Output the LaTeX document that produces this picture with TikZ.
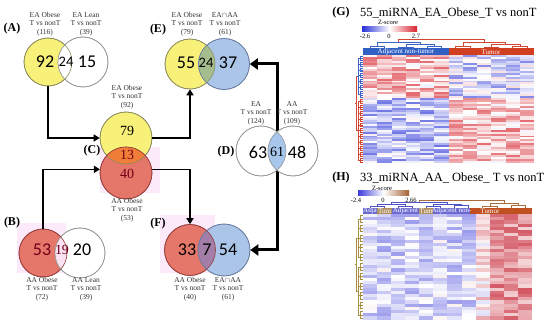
\documentclass[tikz,border=0pt]{standalone}
\usepackage{fontspec}
\setmainfont{Liberation Serif}
\newfontfamily\numf{Carlito}
\usetikzlibrary{arrows.meta}
\definecolor{vyel}{RGB}{247,241,122}
\definecolor{vblue}{RGB}{170,197,232}
\definecolor{vred}{RGB}{228,118,106}
\definecolor{vorange}{RGB}{240,126,56}
\definecolor{vgreen}{RGB}{166,190,142}
\definecolor{vpurp}{RGB}{162,126,168}
\definecolor{vpinkov}{RGB}{250,226,242}
\definecolor{vpinksq}{RGB}{252,234,250}
\definecolor{vlens}{RGB}{166,198,236}
\definecolor{maroon}{RGB}{110,0,25}
\definecolor{hmred}{RGB}{215,35,45}
\definecolor{hmblue}{RGB}{40,50,215}
\definecolor{hhred}{RGB}{200,45,60}
\definecolor{hhblue}{RGB}{60,60,220}
\definecolor{hbrown}{RGB}{165,95,50}
\definecolor{gbarblue}{RGB}{48,96,196}
\definecolor{gbarred}{RGB}{208,64,32}
\definecolor{hbarpurp}{RGB}{106,106,208}
\definecolor{hbarbeige}{RGB}{176,144,96}
\definecolor{hbarbrown}{RGB}{192,80,32}
\definecolor{dendblue}{RGB}{60,100,200}
\definecolor{dendred}{RGB}{210,70,50}
\definecolor{dendpurp}{RGB}{80,80,200}
\definecolor{dendbrown}{RGB}{170,110,60}
\definecolor{dendolive}{RGB}{168,144,64}
\definecolor{lyel}{RGB}{140,140,90}
\definecolor{lgray}{RGB}{150,150,150}
\definecolor{lblue}{RGB}{105,125,160}
\definecolor{lred}{RGB}{150,60,60}
\newcommand\myulink[5]{\draw (#1,#3) -- (#1,#5) -- (#2,#5) -- (#2,#4);}
\tikzset{
  cir/.style={circle, inner sep=0pt, minimum size=#1, line width=0.6pt},
  lbl/.style={font=\fontsize{7.5}{8.5}\selectfont, align=center, text=black!80, inner sep=0pt},
  bn/.style={font=\numf\fontsize{18}{18}\selectfont, inner sep=0pt},
  smn/.style={font=\numf\fontsize{14.5}{14.5}\selectfont, inner sep=0pt},
  srn/.style={font=\fontsize{14}{14}\selectfont, inner sep=0pt},
  pl/.style={font=\bfseries\fontsize{12}{12}\selectfont, inner sep=0pt},
  conn/.style={line width=1.6pt, -{Triangle[length=6pt,width=7pt]}},
  bigconn/.style={line width=3pt, -{Triangle[length=8pt,width=11pt]}},
  hbar/.style={font=\fontsize{7}{7}\selectfont, text=white, inner sep=0pt},
  tiny/.style={font=\fontsize{6.5}{6.5}\selectfont, inner sep=0pt},
  ttl/.style={font=\fontsize{12.5}{12.5}\selectfont, inner sep=0pt, anchor=west},
}
\begin{document}
\begin{tikzpicture}[x=1pt,y=-1pt]
\fill[white] (0,0) rectangle (550,328);
\useasboundingbox (0,0) rectangle (550,328);

% ---------- pink squares (background artefacts) ----------
\fill[vpinksq] (17,223) rectangle (66,273);
\fill[vpinksq] (100,147) rectangle (160,193);
\fill[vpinksq] (160,215) rectangle (215,273);

% ---------- (A) ----------
\node[cir=48pt, fill=vyel, draw=lyel] (Ay) at (48,62) {};
\node[cir=50pt, fill=white, draw=lgray] (Aw) at (83,62) {};
\begin{scope}\clip (Ay.center) circle[radius=24pt];
  \fill[white] (Aw.center) circle[radius=25pt];\end{scope}
\draw[lyel, line width=0.6pt] (Ay.center) circle[radius=24pt];
\draw[lgray, line width=0.6pt] (Aw.center) circle[radius=25pt];
\node[bn] (An1) at (45,62) {92};
\node[smn] (An2) at (66,62) {24};
\node[bn] (An3) at (87,62) {15};
\node[lbl] (Al1) at (45,24) {EA Obese\\T vs nonT\\(116)};
\node[lbl] (Al2) at (86,24) {EA Lean\\T vs nonT\\(39)};
\node[pl] (Ap) at (12,29) {(A)};

% ---------- (B) ----------
\node[cir=48pt, fill=vred, draw=lred] (By) at (43,253) {};
\node[cir=50pt, fill=white, draw=lgray] (Bw) at (80,253) {};
\begin{scope}\clip (By.center) circle[radius=24pt];
  \fill[vpinkov] (Bw.center) circle[radius=25pt];\end{scope}
\draw[lred, line width=0.6pt] (By.center) circle[radius=24pt];
\draw[lgray, line width=0.6pt] (Bw.center) circle[radius=25pt];
\node[bn, text=maroon] (Bn1) at (42,250) {53};
\node[srn, text=maroon] (Bn2) at (62,250) {19};
\node[bn] (Bn3) at (82,250) {20};
\node[lbl] (Bl1) at (42,289) {AA Obese\\T vs nonT\\(72)};
\node[lbl] (Bl2) at (86,289) {AA Lean\\T vs nonT\\(39)};
\node[pl] (Bp) at (12,223) {(B)};

% ---------- (C) ----------
\node[cir=52pt, fill=vyel, draw=lyel] (Cy) at (126,138) {};
\node[cir=52pt, fill=vred, draw=lred] (Cr) at (126,173) {};
\begin{scope}\clip (Cy.center) circle[radius=26pt];
  \fill[vorange] (Cr.center) circle[radius=26pt];\end{scope}
\draw[lyel, line width=0.6pt] (Cy.center) circle[radius=26pt];
\draw[lred, line width=0.6pt] (Cr.center) circle[radius=26pt];
\node[srn] (Cn1) at (127,131) {79};
\node[srn, text=maroon] (Cn2) at (127,155) {13};
\node[srn, text=maroon] (Cn3) at (127,174) {40};
\node[lbl] (Cl1) at (127,97) {EA Obese\\T vs nonT\\(92)};
\node[lbl] (Cl2) at (127,210) {AA Obese\\T vs nonT\\(53)};
\node[pl] (Cp) at (92,151) {(C)};

% ---------- (E) ----------
\node[cir=50pt, fill=vyel, draw=lyel] (Ey) at (190,64) {};
\node[cir=51pt, fill=vblue, draw=lblue] (Eb) at (224,64) {};
\begin{scope}\clip (Ey.center) circle[radius=25pt];
  \fill[vgreen] (Eb.center) circle[radius=25.5pt];\end{scope}
\draw[lyel, line width=0.6pt] (Ey.center) circle[radius=25pt];
\draw[lblue, line width=0.6pt] (Eb.center) circle[radius=25.5pt];
\node[bn] (En1) at (186,63) {55};
\node[smn] (En2) at (206,63) {24};
\node[bn] (En3) at (228,63) {37};
\node[lbl] (El1) at (187,24) {EA Obese\\T vs nonT\\(79)};
\node[lbl] (El2) at (225,24) {EA$\cap$AA\\T vs nonT\\(61)};
\node[pl] (Ep) at (158,30) {(E)};

% ---------- (F) ----------
\node[cir=51pt, fill=vred, draw=lred] (Fr) at (190,250) {};
\node[cir=52pt, fill=vblue, draw=lblue] (Fb) at (224,250) {};
\begin{scope}\clip (Fr.center) circle[radius=25.5pt];
  \fill[vpurp] (Fb.center) circle[radius=26pt];\end{scope}
\draw[lred, line width=0.6pt] (Fr.center) circle[radius=25.5pt];
\draw[lblue, line width=0.6pt] (Fb.center) circle[radius=26pt];
\node[bn] (Fn1) at (187,250) {33};
\node[bn] (Fn2) at (207,250) {7};
\node[bn] (Fn3) at (228,250) {54};
\node[lbl] (Fl1) at (190,289) {AA Obese\\T vs nonT\\(40)};
\node[lbl] (Fl2) at (228,289) {EA$\cap$AA\\T vs nonT\\(61)};
\node[pl] (Fp) at (158,224) {(F)};

% ---------- connectors ----------
\draw[conn] (Ay.south) |- (Cy.west);
\draw[conn] (By.north) |- (Cr.172);
\draw[conn] (Cy.east) -| (Ey.south);
\draw[conn] (Cr.8) -| (Fr.north);
\coordinate (Dc) at (277,151);
\draw[bigconn] (Dc) |- (Eb.east);
\draw[bigconn] (Dc) |- (Fb.east);

% ---------- (D) ----------
\node[cir=50pt, fill=white, draw=lgray] (Dl) at (261,151) {};
\node[cir=50pt, fill=white, draw=lgray] (Dr) at (293,151) {};
\begin{scope}\clip (Dl.center) circle[radius=25pt];
  \fill[vlens] (Dr.center) circle[radius=25pt];\end{scope}
\draw[lgray, line width=0.6pt] (Dl.center) circle[radius=25pt];
\draw[lgray, line width=0.6pt] (Dr.center) circle[radius=25pt];
\node[bn] (Dn1) at (258,152) {63};
\node[srn] (Dn2) at (277,152) {61};
\node[bn] (Dn3) at (297,152) {48};
\node[lbl] (Dl1) at (256,113) {EA\\T vs nonT\\(124)};
\node[lbl] (Dl2) at (292,113) {AA\\T vs nonT\\(109)};
\node[pl] (Dp) at (226,152) {(D)};

% ---------- (G) heatmap ----------
\node[pl] (Gp) at (341,13) {(G)};
\node[ttl] (Gt) at (360,13) {55\_miRNA\_EA\_Obese\_T vs nonT};
\node[tiny] (Gz) at (388,22) {Z-score};
\shade[left color=hmblue, right color=hmred, middle color=white] (362,27) rectangle (417,31.5);
\node[tiny] (Gz1) at (365,36) {-2.6};
\node[tiny] (Gz2) at (389,36) {0};
\node[tiny] (Gz3) at (416,36) {2.7};
\pgfmathsetseed{12}
\foreach \r in {1,...,55}{
  \foreach \c in {1,...,12}{
    \pgfmathsetmacro\bias{(\r<23)?((\c<7)?0.3:-0.2):((\c<7)?-0.3:0.3)}
    \pgfmathsetmacro\v{\bias+0.38*rand}
    \pgfmathtruncatemacro\pct{min(95,abs(\v)*100)}
    \pgfmathsetmacro\xx{363+(\c-1)*14.25}
    \pgfmathsetmacro\yy{55+(\r-1)*1.964}
    \ifdim\v pt>0pt \def\hc{hmred}\else\def\hc{hmblue}\fi
    \fill[\hc!\pct!white] (\xx,\yy) rectangle ++(14.4,2.05);
  }
}
\fill[gbarblue] (363,48.5) rectangle (449,55);
\fill[gbarred] (449,48.5) rectangle (534,55);
\node[hbar] (Gh1) at (406,52) {Adjacent non-tumor};
\node[hbar] (Gh2) at (491,52) {Tumor};
% column dendrogram G
\begin{scope}[dendblue, line width=0.5pt]
  \myulink{370.1}{384.4}{48.5}{48.5}{46}
  \myulink{398.6}{412.9}{48.5}{48.5}{47}
  \myulink{427.1}{441.4}{48.5}{48.5}{46}
  \myulink{405.8}{434.3}{47}{46}{44}
  \myulink{377.3}{420}{46}{44}{42}
\end{scope}
\begin{scope}[dendred, line width=0.5pt]
  \myulink{455.6}{469.9}{48.5}{48.5}{46}
  \myulink{484.1}{498.4}{48.5}{48.5}{47}
  \myulink{512.6}{526.9}{48.5}{48.5}{46}
  \myulink{491.3}{519.8}{47}{46}{44}
  \myulink{462.8}{505.5}{46}{44}{42}
  \myulink{398.6}{484.2}{42}{42}{39}
\end{scope}
% row dendrogram G
\begin{scope}[dendblue, line width=0.4pt]
  \foreach \r in {1,...,22}{\pgfmathsetmacro\yr{55+(\r-0.5)*1.964}\draw (360,\yr) -- (363,\yr);}
  \foreach \a/\b in {1/3,4/6,7/9,10/12,13/15,16/18,19/22}{
    \pgfmathsetmacro\ya{55+(\a-0.5)*1.964}\pgfmathsetmacro\yb{55+(\b-0.5)*1.964}
    \pgfmathsetmacro\ym{(\ya+\yb)/2}
    \draw (360,\ya) -- (360,\yb); \draw (360,\ym) -- (358,\ym);}
  \draw (358,57.9) -- (358,94.3); \draw (358,76.1) -- (356,76.1);
\end{scope}
\begin{scope}[dendred, line width=0.4pt]
  \foreach \r in {23,...,55}{\pgfmathsetmacro\yr{55+(\r-0.5)*1.964}\draw (360,\yr) -- (363,\yr);}
  \foreach \a in {23,26,...,53}{
    \pgfmathsetmacro\ya{55+(\a-0.5)*1.964}\pgfmathsetmacro\yb{55+(\a+1.5)*1.964}
    \pgfmathsetmacro\ym{(\ya+\yb)/2}
    \draw (360,\ya) -- (360,\yb); \draw (360,\ym) -- (358,\ym);}
  \draw (358,101.2) -- (358,160.1); \draw (358,130.6) -- (356,130.6);
  \draw (356,76.1) -- (356,130.6); \draw (356,103.4) -- (354.5,103.4);
\end{scope}

% ---------- (H) heatmap ----------
\node[pl] (Hp) at (341,178) {(H)};
\node[ttl] (Ht) at (360,178) {33\_miRNA\_AA\_ Obese\_ T vs nonT};
\shade[left color=hhblue, right color=hbrown, middle color=white] (358,191) rectangle (409,196);
\node[tiny] (Hz) at (382,188.5) {Z-score};
\node[tiny] (Hz1) at (356,200) {-2.4};
\node[tiny] (Hz2) at (383,200) {0};
\node[tiny] (Hz3) at (411,200) {2.66};
\pgfmathsetseed{5}
\foreach \r in {1,...,33}{
  \foreach \c in {1,...,12}{
    \pgfmathsetmacro\bias{(\c<9)?-0.22:((\c<10)?0.12:0.5)}
    \pgfmathsetmacro\v{\bias+0.3*rand}
    \pgfmathtruncatemacro\pct{min(95,abs(\v)*100)}
    \pgfmathsetmacro\xx{363+(\c-1)*14.08}
    \pgfmathsetmacro\yy{214+(\r-1)*3.2}
    \ifdim\v pt>0pt \def\hc{hhred}\else\def\hc{hhblue}\fi
    \fill[\hc!\pct!white] (\xx,\yy) rectangle ++(14.2,3.3);
  }
}
\fill[hbarpurp] (363,208) rectangle (377,214);
\fill[hbarbeige] (377,208) rectangle (392,214);
\fill[hbarpurp] (392,208) rectangle (419,214);
\fill[hbarbeige] (419,208) rectangle (433,214);
\fill[hbarpurp] (433,208) rectangle (470,214);
\fill[hbarbrown] (470,208) rectangle (532,214);
\node[hbar] (Hh1) at (370,211) {Adja};
\node[hbar] (Hh2) at (384.5,211) {Tum};
\node[hbar] (Hh3) at (405.5,211) {Adjacent};
\node[hbar] (Hh4) at (426,211) {Tum};
\node[hbar] (Hh5) at (451.5,211) {Adjacent non-};
\node[hbar] (Hh6) at (490,211) {Tumor};
% column dendrogram H
\begin{scope}[dendpurp, line width=0.5pt]
  \myulink{370.0}{384.1}{208}{208}{206}
  \myulink{398.2}{412.3}{208}{208}{206}
  \myulink{426.4}{440.4}{208}{208}{206}
  \myulink{454.5}{468.6}{208}{208}{205}
  \myulink{377.1}{405.3}{206}{206}{204}
  \myulink{433.4}{461.6}{206}{205}{204}
  \myulink{391.2}{447.5}{204}{204}{202}
\end{scope}
\begin{scope}[dendbrown, line width=0.5pt]
  \myulink{482.7}{496.8}{208}{208}{206}
  \myulink{510.9}{524.9}{208}{208}{205}
  \myulink{489.8}{517.9}{206}{205}{203}
  \myulink{419.3}{503.8}{202}{203}{200}
\end{scope}
% row dendrogram H
\begin{scope}[dendolive, line width=0.4pt]
  \foreach \r in {1,...,33}{\pgfmathsetmacro\yr{214+(\r-0.5)*3.2}\draw (360,\yr) -- (363,\yr);}
  \foreach \a in {1,4,...,31}{
    \pgfmathsetmacro\ya{214+(\a-0.5)*3.2}\pgfmathsetmacro\yb{214+(\a+1.5)*3.2}
    \pgfmathsetmacro\ym{(\ya+\yb)/2}
    \draw (360,\ya) -- (360,\yb); \draw (360,\ym) -- (358,\ym);}
  \draw (358,218.8) -- (358,257.2); \draw (358,238) -- (356,238);
  \draw (358,267.2) -- (358,315.2); \draw (358,291.2) -- (356,291.2);
  \draw (356,238) -- (356,291.2); \draw (356,264.6) -- (354.5,264.6);
\end{scope}
\end{tikzpicture}
\end{document}
